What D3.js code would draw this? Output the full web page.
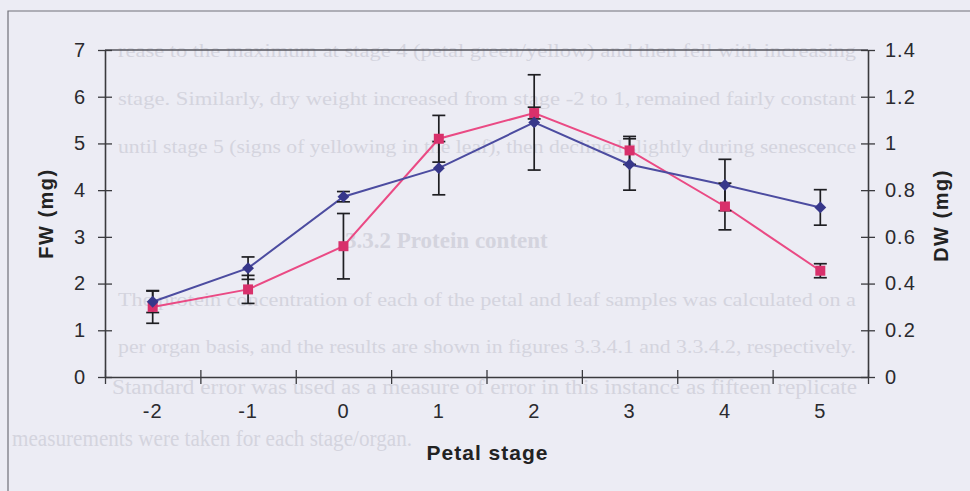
<!DOCTYPE html>
<html>
<head>
<meta charset="utf-8">
<script src="https://cdn.jsdelivr.net/npm/d3@7"></script>
<style>
  body { margin: 0; background: #ececf4; }
  svg { display: block; }
  text { font-family: Arial, "Liberation Sans", sans-serif; }
</style>
</head>
<body>
<svg id="chart" width="970" height="491"></svg>
<script>
// Chart data
const stages = ['-2', '-1', '0', '1', '2', '3', '4', '5'];
const fwMean = [1.61, 2.33, 3.86, 4.47, 5.45, 4.55, 4.11, 3.63];
const fwErr = [0.23, 0.24, 0.11, 0.57, 1.02, 0.55, 0.55, 0.38];
const dwMean = [0.30, 0.375, 0.56, 1.02, 1.13, 0.97, 0.73, 0.455];
const dwErr = [0.07, 0.06, 0.14, 0.10, 0.025, 0.06, 0.10, 0.03];
const fwTicks = [0, 1, 2, 3, 4, 5, 6, 7];
const dwTicks = [0, 0.2, 0.4, 0.6, 0.8, 1, 1.2, 1.4];

// faint thesis text showing through the scan
const pageTextTop = [
    'rease to the maximum at stage 4 (petal green/yellow) and then fell with increasing',
    'stage.  Similarly, dry weight increased from stage -2 to 1, remained fairly constant',
    'until stage 5 (signs of yellowing in the leaf), then declined slightly during senescence'
];
const pageHeading = '3.3.2   Protein content';
const pageTextBottom = [
    'The protein concentration of each of the petal and leaf samples was calculated on a',
    'per organ basis, and the results are shown in figures 3.3.4.1 and 3.3.4.2, respectively.'
];
const pageTextFoot = [
    'Standard error was used as a measure of error in this instance as fifteen replicate',
    'measurements were taken for each stage/organ.'
];

const colors = {
    fwLine: '#4c4ca0',
    fwMarker: '#37378a',
    dwLine: '#ea4a84',
    dwMarker: '#d8306b',
    err: '#1e1e22',
    axis: '#3a3a3e',
    frame: '#707078',
    pageText: '#d4d4de'
};

const margin = { left: 105, right: 868, top: 50, bottom: 377 };

const svg = d3.select('#chart');

// background page text (kept faint, squeezed between the axes)
const pageG = svg.append('g')
    .attr('fill', colors.pageText);

const pageLine = (txt, x, y, size, len) => {
    const t = pageG.append('text')
        .attr('x', x)
        .attr('y', y)
        .style('font-family', '"Liberation Serif", "Times New Roman", serif')
        .style('font-size', size + 'px')
        .text(txt);
    if (len) t.attr('textLength', len).attr('lengthAdjust', 'spacingAndGlyphs');
    return t;
};

pageTextTop.forEach((d, i) => pageLine(d, 118, 57 + i * 48, 19, 738));
pageLine(pageHeading, 345, 248, 23).style('font-weight', 'bold');
pageTextBottom.forEach((d, i) => pageLine(d, 118, 306 + i * 47, 19, 738));
pageLine(pageTextFoot[0], 112, 394, 20, 745);
pageLine(pageTextFoot[1], 12, 446, 23, 400);

// outer chart frame (left and top edges visible)
svg.append('path')
    .attr('d', 'M8,491 L8,11 L970,11')
    .attr('fill', 'none')
    .attr('stroke', colors.frame)
    .attr('stroke-width', 1.2);

// scales
const x = d3.scaleBand()
    .domain(stages)
    .range([margin.left, margin.right])
    .padding(0);

const xEdge = d3.scaleLinear()
    .domain([0, stages.length])
    .range([margin.left, margin.right]);

const yFW = d3.scaleLinear()
    .domain([0, 7])
    .range([margin.bottom, margin.top]);

const yDW = d3.scaleLinear()
    .domain([0, 1.4])
    .range([margin.bottom, margin.top]);

const cx = s => x(s) + x.bandwidth() / 2;

// plot area top border
svg.append('line')
    .attr('x1', margin.left)
    .attr('x2', margin.right)
    .attr('y1', margin.top)
    .attr('y2', margin.top)
    .attr('stroke', '#55555c')
    .attr('stroke-width', 1.3);

const styleAxis = (g) => {
    g.select('.domain').attr('stroke', colors.axis).attr('stroke-width', 1.6);
    g.selectAll('.tick line').attr('stroke', colors.axis).attr('stroke-width', 1.3);
    g.selectAll('.tick text')
        .attr('fill', '#2a2a2e')
        .style('font-size', '20px')
        .style('letter-spacing', '1px');
};

// left axis (FW)
const leftAxis = svg.append('g')
    .attr('transform', `translate(${margin.left},0)`)
    .call(d3.axisLeft(yFW).tickValues(fwTicks).tickSize(7).tickPadding(12).tickSizeOuter(0).tickFormat(d3.format('d')));
leftAxis.selectAll('.tick line').attr('x1', 7);
styleAxis(leftAxis);

// right axis (DW)
const rightAxis = svg.append('g')
    .attr('transform', `translate(${margin.right},0)`)
    .call(d3.axisRight(yDW).tickValues(dwTicks).tickSize(7).tickPadding(10).tickSizeOuter(0).tickFormat(d => d3.format('~g')(d)));
rightAxis.selectAll('.tick line').attr('x1', -7);
styleAxis(rightAxis);

// bottom axis: ticks between categories
const bottomTicks = svg.append('g')
    .attr('transform', `translate(0,${margin.bottom})`)
    .call(d3.axisBottom(xEdge).tickValues(d3.range(0, stages.length + 1)).tickSize(7).tickSizeOuter(0).tickFormat(''));
bottomTicks.selectAll('.tick line').attr('y1', -7);
styleAxis(bottomTicks);

// bottom axis: category labels
const bottomLabels = svg.append('g')
    .attr('transform', `translate(0,${margin.bottom})`)
    .call(d3.axisBottom(x).tickSize(0).tickPadding(27));
bottomLabels.select('.domain').remove();
styleAxis(bottomLabels);

// axis titles
svg.append('text')
    .attr('transform', `translate(53,${(margin.top + margin.bottom) / 2}) rotate(-90)`)
    .attr('text-anchor', 'middle')
    .attr('fill', '#222')
    .style('font-size', '20px')
    .style('font-weight', 'bold')
    .style('letter-spacing', '1.5px')
    .text('FW (mg)');

svg.append('text')
    .attr('transform', `translate(948,${(margin.top + margin.bottom) / 2 + 2}) rotate(-90)`)
    .attr('text-anchor', 'middle')
    .attr('fill', '#222')
    .style('font-size', '20px')
    .style('font-weight', 'bold')
    .style('letter-spacing', '1.5px')
    .text('DW (mg)');

svg.append('text')
    .attr('x', (margin.left + margin.right) / 2 + 1)
    .attr('y', 460)
    .attr('text-anchor', 'middle')
    .attr('fill', '#222')
    .style('font-size', '21px')
    .style('font-weight', 'bold')
    .style('letter-spacing', '1px')
    .text('Petal stage');

// series
const series = [
    { name: 'DW', mean: dwMean, err: dwErr, y: yDW, line: colors.dwLine, marker: colors.dwMarker,
      symbol: d3.symbol(d3.symbolSquare, 100), rotate: 0 },
    { name: 'FW', mean: fwMean, err: fwErr, y: yFW, line: colors.fwLine, marker: colors.fwMarker,
      symbol: d3.symbol(d3.symbolSquare, 70), rotate: 45 }
];

series.forEach(s => {
    const pts = stages.map((st, i) => ({ st, v: s.mean[i], e: s.err[i] }));
    svg.append('path')
        .datum(pts)
        .attr('fill', 'none')
        .attr('stroke', s.line)
        .attr('stroke-width', 2)
        .attr('d', d3.line().x(d => cx(d.st)).y(d => s.y(d.v)));
});

// error bars
const capHalf = 6.5;
series.forEach(s => {
    const pts = stages.map((st, i) => ({ st, v: s.mean[i], e: s.err[i] }));
    const eg = svg.append('g')
        .attr('stroke', colors.err)
        .attr('stroke-width', 1.7);
    pts.forEach(d => {
        const px = cx(d.st);
        const top = s.y(d.v + d.e);
        const bot = s.y(d.v - d.e);
        eg.append('line').attr('x1', px).attr('x2', px).attr('y1', top).attr('y2', bot);
        eg.append('line').attr('x1', px - capHalf).attr('x2', px + capHalf).attr('y1', top).attr('y2', top);
        eg.append('line').attr('x1', px - capHalf).attr('x2', px + capHalf).attr('y1', bot).attr('y2', bot);
    });
});

// markers
series.forEach(s => {
    const pts = stages.map((st, i) => ({ st, v: s.mean[i] }));
    svg.append('g')
        .selectAll('path')
        .data(pts)
        .enter()
        .append('path')
        .attr('d', s.symbol)
        .attr('fill', s.marker)
        .attr('transform', d => `translate(${cx(d.st)},${s.y(d.v)}) rotate(${s.rotate})`);
});
</script>
</body>
</html>
